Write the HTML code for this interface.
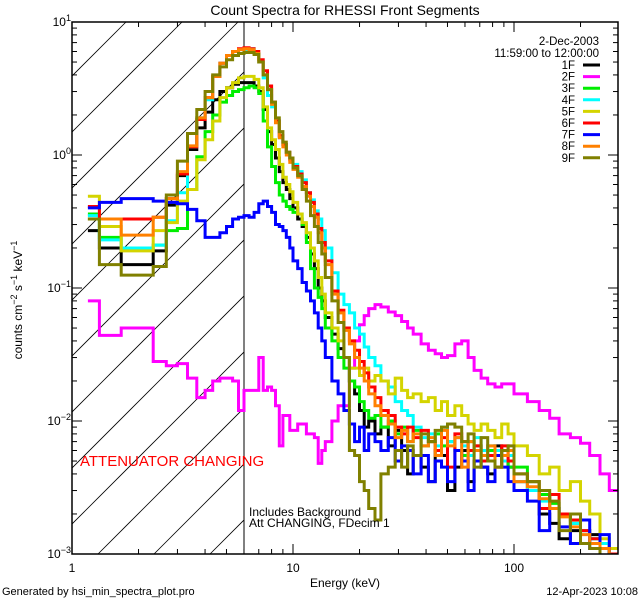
<!DOCTYPE html>
<html><head><meta charset="utf-8"><style>
html,body{margin:0;padding:0;background:#fff;}
svg{display:block;font-family:"Liberation Sans",sans-serif;}
</style></head><body>
<svg id="chart" width="640" height="600" viewBox="0 0 640 600">
<rect x="0" y="0" width="640" height="600" fill="#fff"/>
<defs><clipPath id="plotclip"><rect x="72" y="22" width="546" height="532"/></clipPath>
<clipPath id="hatchclip"><rect x="72" y="22" width="172" height="532"/></clipPath></defs>
<text x="345" y="15" font-size="14" text-anchor="middle">Count Spectra for RHESSI Front Segments</text>
<g id="hatch" clip-path="url(#hatchclip)"></g>
<line x1="244" y1="22" x2="244" y2="554" stroke="#000" stroke-width="1"/>
<g id="series" clip-path="url(#plotclip)"></g>
<rect x="72" y="22" width="546" height="532" fill="none" stroke="#000" stroke-width="1.5"/>
<g id="axes"></g>
<text transform="translate(22,300) rotate(-90)" font-size="12" text-anchor="middle">counts cm<tspan dy="-5" font-size="9">−2</tspan><tspan dy="5"> s</tspan><tspan dy="-5" font-size="9">−1</tspan><tspan dy="5"> keV</tspan><tspan dy="-5" font-size="9">−1</tspan></text>
<text x="345" y="587" font-size="12" text-anchor="middle">Energy (keV)</text>
<text x="2" y="595" font-size="11">Generated by hsi_min_spectra_plot.pro</text>
<text x="638" y="595" font-size="11" text-anchor="end">12-Apr-2023 10:08</text>
<text x="80" y="466" font-size="15" fill="#ff0000">ATTENUATOR CHANGING</text>
<text x="249" y="516" font-size="12">Includes Background</text>
<text x="249" y="527" font-size="12">Att CHANGING, FDecim 1</text>
<text x="599" y="45" font-size="11.5" text-anchor="end">2-Dec-2003</text>
<text x="599" y="57" font-size="11.5" text-anchor="end">11:59:00 to 12:00:00</text>
<g id="legend"></g>
</svg>
<script>
const edges=[1.18,1.33,1.67,2.33,2.67,3,3.33,3.67,4,4.33,4.67,5,5.33,5.67,6,6.33,6.67,7,7.33,7.67,8,8.33,8.67,9,9.33,9.67,10,10.5,11,11.5,12,12.5,13,13.5,14,15,16,17,18,19,20,21,22,23.5,25,27,29,31,33,35,38,41,44,47,50,54,58,62,66,71,76,82,88,94,100,115,130,145,160,180,200,220,245,270,296];
const seriesNames=["1F","2F","3F","4F","5F","6F","7F","8F","9F"];
const seriesColors=["#000000","#ff00ff","#00ee00","#00ffff","#d4d400","#ff0000","#0000ff","#ff8000","#808000"];
const s1F=[0.27,0.2,0.15,0.19,0.42,0.7,1.1,1.6,2.1,2.6,3.0,3.2,3.4,3.5,3.5,3.5,3.3,3.0,2.2,1.5,1.2,0.95,0.75,0.62,0.55,0.47,0.4,0.33,0.29,0.24,0.18,0.14,0.1,0.08,0.06,0.045,0.035,0.03,0.02,0.016,0.012,0.009,0.01,0.008,0.009,0.0065,0.0085,0.006,0.004,0.0055,0.0045,0.0035,0.006,0.0055,0.003,0.0045,0.006,0.0035,0.005,0.0045,0.004,0.0065,0.005,0.0045,0.0035,0.003,0.002,0.0017,0.0013,0.0015,0.0012,0.0014,0.0012,0.0009];
const s2F=[0.08,0.044,0.05,0.028,0.026,0.027,0.021,0.015,0.017,0.02,0.021,0.021,0.02,0.012,0.017,0.017,0.017,0.03,0.017,0.018,0.017,0.013,0.0065,0.011,0.011,0.0085,0.0085,0.0095,0.0095,0.008,0.008,0.0075,0.0048,0.006,0.007,0.01,0.013,0.013,0.025,0.04,0.053,0.062,0.07,0.075,0.072,0.066,0.062,0.056,0.05,0.045,0.038,0.034,0.032,0.03,0.031,0.038,0.04,0.03,0.024,0.021,0.019,0.018,0.019,0.019,0.016,0.014,0.012,0.0105,0.008,0.0075,0.0068,0.0055,0.004,0.003];
const s3F=[0.36,0.24,0.2,0.21,0.27,0.28,0.55,0.97,1.5,2.0,2.5,2.8,3.0,3.1,3.2,3.3,3.2,2.9,1.8,1.15,0.82,0.62,0.5,0.45,0.41,0.39,0.37,0.36,0.3,0.22,0.14,0.1,0.085,0.07,0.05,0.04,0.03,0.025,0.02,0.018,0.014,0.012,0.0105,0.011,0.009,0.01,0.008,0.009,0.007,0.0085,0.0065,0.007,0.008,0.0065,0.007,0.006,0.0055,0.007,0.0065,0.006,0.006,0.0055,0.005,0.0045,0.0045,0.0035,0.0028,0.0024,0.002,0.0017,0.0015,0.0013,0.0011,0.001];
const s4F=[0.35,0.23,0.2,0.21,0.32,0.52,1.15,1.9,2.6,3.9,4.9,5.6,6.0,6.2,6.2,6.3,5.8,5.0,3.8,2.8,2.3,1.8,1.35,1.2,1.05,0.95,0.85,0.75,0.65,0.52,0.46,0.38,0.33,0.27,0.2,0.13,0.09,0.075,0.065,0.05,0.045,0.036,0.03,0.026,0.02,0.018,0.014,0.012,0.011,0.009,0.0075,0.008,0.0065,0.009,0.007,0.0075,0.0065,0.0055,0.0075,0.006,0.0065,0.006,0.005,0.0055,0.0035,0.003,0.0025,0.0022,0.002,0.0017,0.0015,0.0013,0.0012,0.001];
const s5F=[0.49,0.29,0.19,0.27,0.31,0.45,0.55,0.92,1.3,1.8,2.7,3.2,3.5,3.8,3.9,3.9,3.7,3.2,2.3,1.6,1.3,1.1,0.85,0.68,0.6,0.53,0.44,0.36,0.31,0.26,0.2,0.16,0.12,0.09,0.065,0.05,0.04,0.03,0.025,0.025,0.022,0.025,0.02,0.022,0.02,0.016,0.021,0.017,0.015,0.016,0.014,0.015,0.012,0.014,0.011,0.013,0.011,0.0095,0.0085,0.0095,0.0085,0.0075,0.0095,0.008,0.0065,0.0055,0.004,0.0045,0.003,0.0035,0.0025,0.002,0.0013,0.0011];
const s6F=[0.41,0.33,0.33,0.34,0.47,0.72,1.15,1.85,2.7,3.9,4.9,5.6,6.0,6.3,6.4,6.3,6.0,5.2,4.3,3.3,2.5,1.8,1.4,1.2,1.05,0.92,0.82,0.72,0.62,0.52,0.44,0.36,0.28,0.22,0.16,0.095,0.068,0.05,0.04,0.034,0.028,0.023,0.018,0.015,0.012,0.011,0.009,0.008,0.009,0.0075,0.0085,0.007,0.006,0.0075,0.0045,0.008,0.007,0.006,0.0065,0.005,0.0055,0.0045,0.0065,0.005,0.004,0.0035,0.0022,0.0028,0.002,0.0018,0.0015,0.0013,0.0011,0.001];
const s7F=[0.4,0.44,0.47,0.45,0.44,0.43,0.39,0.32,0.24,0.24,0.26,0.29,0.33,0.34,0.35,0.34,0.37,0.43,0.45,0.41,0.37,0.3,0.29,0.27,0.24,0.2,0.16,0.14,0.11,0.095,0.08,0.065,0.05,0.04,0.03,0.02,0.016,0.012,0.0095,0.007,0.009,0.006,0.008,0.007,0.006,0.0075,0.005,0.0065,0.006,0.004,0.0055,0.0035,0.005,0.0045,0.0035,0.006,0.005,0.003,0.005,0.0045,0.0035,0.0055,0.0045,0.0035,0.003,0.0025,0.0015,0.0022,0.0016,0.0012,0.0018,0.0011,0.0014,0.0009];
const s8F=[0.33,0.33,0.25,0.34,0.47,0.75,1.17,1.9,2.7,3.9,4.9,5.6,6.0,6.2,6.3,6.2,5.8,5.0,4.0,3.1,2.4,1.75,1.35,1.15,1.0,0.88,0.78,0.68,0.58,0.49,0.41,0.34,0.26,0.2,0.15,0.09,0.065,0.048,0.038,0.03,0.025,0.02,0.016,0.013,0.011,0.0095,0.0075,0.0085,0.007,0.008,0.0065,0.0075,0.0055,0.0085,0.0065,0.0075,0.0045,0.007,0.006,0.0055,0.0065,0.0045,0.0055,0.006,0.0035,0.0032,0.0026,0.0022,0.0019,0.0016,0.0014,0.0012,0.0011,0.0009];
const s9F=[0.33,0.15,0.125,0.145,0.5,0.9,1.45,2.2,3.0,4.0,4.6,5.2,5.6,5.8,5.9,5.9,5.7,5.0,4.0,3.1,2.5,1.9,1.5,1.25,1.05,0.95,0.8,0.7,0.55,0.45,0.35,0.29,0.22,0.18,0.12,0.08,0.055,0.03,0.006,0.0055,0.0035,0.003,0.0022,0.0018,0.004,0.0045,0.006,0.0045,0.0065,0.0055,0.008,0.007,0.0085,0.009,0.0095,0.009,0.007,0.008,0.0045,0.0075,0.005,0.0045,0.006,0.0065,0.004,0.0035,0.003,0.0025,0.0015,0.002,0.0012,0.0011,0.0009,0.0009];
const allSeries=[s1F,s2F,s3F,s4F,s5F,s6F,s7F,s8F,s9F];
const yTickExps=[-3,-2,-1,0,1];
const xTickLabels=[1,10,100];

const NS="http://www.w3.org/2000/svg";
const X0=72,DEC_X=221,Y0=22,DEC_Y=133;
function xs(e){return X0+DEC_X*Math.log10(e);}
function ys(v){return Y0+DEC_Y*(1-Math.log10(v));}
function mk(tag,attrs,parent){const el=document.createElementNS(NS,tag);for(const k in attrs)el.setAttribute(k,attrs[k]);parent.appendChild(el);return el;}

const hatch=document.getElementById('hatch');
for(let k=-2;k<12;k++){
  const c=98-56*k;
  const l=mk('line',{x1:c,y1:554,x2:c+532,y2:22,stroke:'#000','stroke-width':0.8},hatch);
  
  
}

const sg=document.getElementById('series');
allSeries.forEach((vals,i)=>{
  let d='';
  vals.forEach((v,j)=>{
    const xa=xs(edges[j]).toFixed(1),xb=xs(edges[j+1]).toFixed(1),y=ys(v).toFixed(1);
    d+=(j===0?'M':'L')+xa+','+y+'L'+xb+','+y;
  });
  const p=mk('path',{d:d,fill:'none',stroke:seriesColors[i],'stroke-width':3,'stroke-linejoin':'miter'},sg);
  
  
});

const ax=document.getElementById('axes');
for(let dec=0;dec<3;dec++){
  for(let m=1;m<10;m++){
    const e=m*Math.pow(10,dec); if(e>296)break;
    const x=xs(e),len=(m===1)?10:5;
    const t1=mk('line',{x1:x,y1:554,x2:x,y2:554-len,stroke:'#000'},ax);
    
    
    const t2=mk('line',{x1:x,y1:22,x2:x,y2:22+len,stroke:'#000'},ax);
    
    
  }
}
xTickLabels.forEach(v=>{
  const t=mk('text',{x:xs(v),y:572,'font-size':12,'text-anchor':'middle'},ax);
  t.textContent=String(v);
  
  
});
for(let e=-3;e<1;e++){
  for(let m=1;m<10;m++){
    const v=m*Math.pow(10,e),y=ys(v),len=(m===1)?10:5;
    const t1=mk('line',{x1:72,y1:y,x2:72+len,y2:y,stroke:'#000'},ax);
    
    
    const t2=mk('line',{x1:618,y1:y,x2:618-len,y2:y,stroke:'#000'},ax);
    
    
  }
}
yTickExps.forEach(e=>{
  const y=ys(Math.pow(10,e));
  const t=mk('text',{x:71,y:y+4,'font-size':12,'text-anchor':'end'},ax);
  
  
  const a=document.createElementNS(NS,'tspan');a.textContent='10';t.appendChild(a);
  const b=document.createElementNS(NS,'tspan');b.setAttribute('dy','-5');b.setAttribute('font-size','9');b.textContent=(e<0?'−':'')+Math.abs(e);t.appendChild(b);
});

const lg=document.getElementById('legend');
seriesNames.forEach((n,i)=>{
  const y=69+11.6*i;
  const t=mk('text',{x:575,y:y,'font-size':11.5,'text-anchor':'end'},lg);
  t.textContent=n;
  
  
  const l=mk('line',{x1:583,y1:y-4,x2:600,y2:y-4,stroke:seriesColors[i],'stroke-width':3},lg);
  
  
});
</script>
</body></html>
